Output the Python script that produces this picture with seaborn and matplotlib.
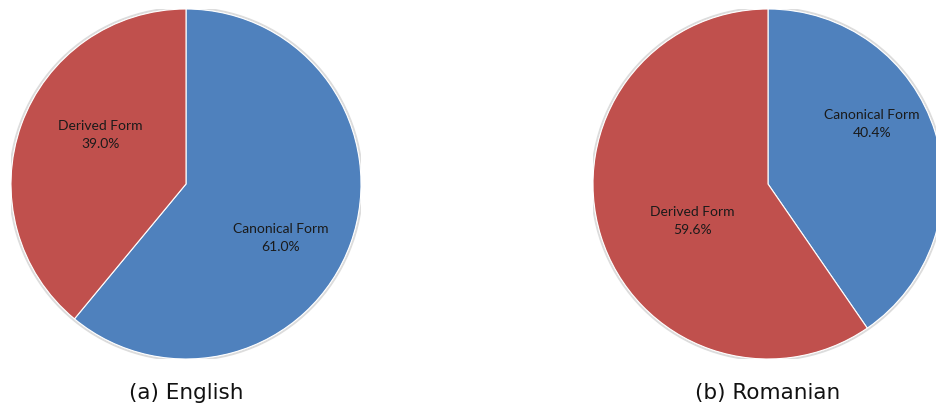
import matplotlib
matplotlib.use("Agg")
import matplotlib.pyplot as plt
import seaborn as sns
from matplotlib.patches import Circle

# Share of word forms per language
categories = ["Canonical Form", "Derived Form"]
english_share = [61.0, 39.0]
romanian_share = [40.4, 59.6]
captions = ["(a) English", "(b) Romanian"]

sns.set_style("white")
colors = ["#4F81BD", "#C0504D"]

W, H = 936, 409
fig = plt.figure(figsize=(W / 100, H / 100), dpi=100)

# label anchor points in units of the pie radius
label_pos = [
    [(0.543, -0.309), (-0.491, 0.280)],
    [(0.594, 0.343), (-0.434, -0.211)],
]
centers_x = [186, 768]
cy, radius = 184, 175

for i, shares in enumerate([english_share, romanian_share]):
    cx = centers_x[i]
    ax = fig.add_axes([(cx - radius) / W, (H - cy - radius) / H,
                       2 * radius / W, 2 * radius / H])
    ax.add_patch(Circle((0, 0), 1.008, facecolor="none",
                        edgecolor="#dcdcdc", lw=1.5, zorder=0))
    ax.pie(shares, colors=colors, startangle=90, counterclock=False,
           wedgeprops=dict(edgecolor="white", linewidth=0.8))
    for (x, y), name, val in zip(label_pos[i], categories, shares):
        ax.text(x, y, f"{name}\n{val:.1f}%", ha="center", va="center",
                fontsize=10, family="Lato", color="#1a1a1a", linespacing=1.6)
    ax.set_xlim(-1, 1)
    ax.set_ylim(-1, 1)
    ax.set_aspect("equal")
    ax.axis("off")
    fig.text(cx / W, 1 - 393 / H, captions[i], ha="center", va="center",
             fontsize=15.5, family="DejaVu Sans", color="#111111")

fig.savefig("out.png", dpi=100)
